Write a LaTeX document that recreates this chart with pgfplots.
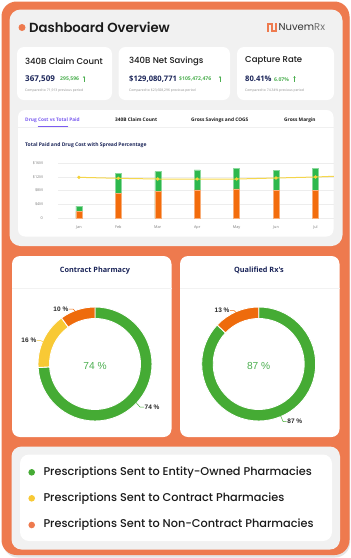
\documentclass[border=0pt]{standalone}
\usepackage{pgfplots}
\pgfplotsset{compat=1.18}
\usetikzlibrary{arrows.meta}
\usepackage{fontspec}
\setmainfont{Open Sans}
\newfontfamily\pop{Poppins}
\newfontfamily\popm{Poppins Medium}
\newfontfamily\pops{Poppins SemiBold}
\newfontfamily\osans{Open Sans}
\newfontfamily\lib{Liberation Sans}
\definecolor{frame}{HTML}{EE7A4E}
\definecolor{panel}{HTML}{F1F1F1}
\definecolor{navy}{HTML}{1B2559}
\definecolor{kgreen}{HTML}{4CAF50}
\definecolor{barorange}{HTML}{F36C0C}
\definecolor{bargreen}{HTML}{2DB84D}
\definecolor{lineyellow}{HTML}{F5D33A}
\definecolor{markyellow}{HTML}{F2C318}
\definecolor{dgreen}{HTML}{45AB34}
\definecolor{dyellow}{HTML}{F8C935}
\definecolor{dorange}{HTML}{EE6B0C}
\definecolor{tabpurple}{HTML}{7B5CF0}
\definecolor{ticgray}{HTML}{7A7A7A}
\definecolor{txt}{HTML}{1A1A1A}
\newcommand\fs[1]{\fontsize{#1}{#1}\selectfont}
% donut segment: start angle, end angle, colour
\newcommand\seg[3]{\fill[#3, draw=white, line width=0.9pt] (axis cs:0,0) ++(#1:57pt) arc[start angle=#1, end angle=#2, radius=57pt] -- ++(#2+180:11.5pt) arc[start angle=#2, end angle=#1, radius=45.5pt] -- cycle;}

\begin{document}
\begin{tikzpicture}
% donut data (percent)
\def\cpGreen{74}\def\cpYellow{16}\def\cpOrange{10}
\def\qrGreen{87}\def\qrOrange{13}
\pgfmathsetmacro\aA{90-3.6*\cpGreen}
\pgfmathsetmacro\aB{\aA-3.6*\cpYellow}
\pgfmathsetmacro\aC{\aB-3.6*\cpOrange}
\pgfmathsetmacro\bA{90-3.6*\qrGreen}
\pgfmathsetmacro\bB{\bA-3.6*\qrOrange}
\begin{scope}[x=1pt,y=-1pt]
\path[use as bounding box] (0,0) rectangle (351,558);
\fill[white] (0,0) rectangle (351,558);
\fill[black!10, rounded corners=15pt] (3,5) rectangle (350,557.5);
\fill[frame, rounded corners=15pt] (1.5,1.5) rectangle (349.5,555);
\fill[panel, rounded corners=11pt] (9.5,9.5) rectangle (342.5,246);
% title
\fill[frame] (22,27.5) circle (3.5);
\node[anchor=west, inner sep=0pt, text=txt] at (29,27.5) {\pops\fs{13.2}Dashboard Overview};
% logo
\draw[frame, line width=2pt] (267.5,31.5)--(267.5,23.5)--(271.5,23.5)--(271.5,30.5)--(275.5,30.5)--(275.5,22.5);
\node[anchor=west, inner sep=0pt] at (278.5,27) {\pop\fs{10}\color{black!80}Nuvem\color{black!55}Rx};
% KPI cards
\fill[white, rounded corners=7pt] (17,47) rectangle (112,100);
\fill[white, rounded corners=7pt] (118.5,47) rectangle (230,100);
\fill[white, rounded corners=7pt] (237,47) rectangle (334,100);
\node[anchor=west, inner sep=0pt, text=txt] at (25,61) {\popm\fs{8.5}340B Claim Count};
\node[anchor=west, inner sep=0pt, text=txt] at (129,61) {\popm\fs{8.5}340B Net Savings};
\node[anchor=west, inner sep=0pt, text=txt] at (245,61) {\popm\fs{8.5}Capture Rate};
\node[anchor=west, inner sep=0pt, text=navy] at (25,79) {\osans\bfseries\fs{8}367,509};
\node[anchor=west, inner sep=0pt, text=navy] at (129,79) {\osans\bfseries\fs{7.6}\$129,080,771};
\node[anchor=west, inner sep=0pt, text=navy] at (245,79) {\osans\bfseries\fs{7.6}80.41\%};
\node[anchor=west, inner sep=0pt, text=kgreen] at (60,79.3) {\osans\bfseries\fs{5.1}295,596};
\node[anchor=west, inner sep=0pt, text=kgreen] at (179,79.3) {\osans\bfseries\fs{5.1}\$105,472,476};
\node[anchor=west, inner sep=0pt, text=kgreen] at (274,79.3) {\osans\bfseries\fs{5.1}6.07\%};
\foreach \ax in {84,220,294.5}{\draw[kgreen, line width=0.6pt, -{Stealth[length=1.8pt,width=2.2pt]}] (\ax,81.5)--(\ax,76);}
\node[anchor=west, inner sep=0pt, text=black!45] at (25,91) {\osans\fs{3.4}Compared to 71,913 previous period};
\node[anchor=west, inner sep=0pt, text=black!45] at (129,91) {\osans\fs{3.4}Compared to \$23,608,296 previous period};
\node[anchor=west, inner sep=0pt, text=black!45] at (245,91) {\osans\fs{3.4}Compared to 74.34\% previous period};
% chart card
\fill[white, rounded corners=7pt] (18,110) rectangle (333.5,236.5);
\node[anchor=west, inner sep=0pt, text=tabpurple] at (25,120) {\osans\bfseries\fs{4.8}Drug Cost vs Total Paid};
\node[anchor=west, inner sep=0pt, text=txt] at (115,120) {\osans\bfseries\fs{4.8}340B Claim Count};
\node[anchor=west, inner sep=0pt, text=txt] at (191,120) {\osans\bfseries\fs{4.8}Gross Savings and COGS};
\node[anchor=west, inner sep=0pt, text=txt] at (284,120) {\osans\bfseries\fs{4.8}Gross Margin};
\draw[black!6, line width=0.5pt] (18,127.5)--(333.5,127.5);
\draw[tabpurple, line width=1.2pt, line cap=round] (38.5,126.8)--(67.5,126.8);
\node[anchor=west, inner sep=0pt, text=navy] at (25,144.7) {\osans\bfseries\fs{5}Total Paid and Drug Cost with Spread Percentage};
% donut cards
\fill[white, rounded corners=8pt] (12,256) rectangle (171.5,437);
\fill[white, rounded corners=8pt] (180,256) rectangle (339.5,437);
\draw[black!5, line width=0.5pt] (12,288)--(171.5,288);
\draw[black!5, line width=0.5pt] (180,288)--(339.5,288);
\node[inner sep=0pt, text=navy] at (95,270.7) {\osans\bfseries\fs{7.3}Contract Pharmacy};
\node[inner sep=0pt, text=navy] at (259,270.7) {\osans\bfseries\fs{7.3}Qualified Rx's};
% legend panel
\fill[panel, rounded corners=10pt] (11.5,446.5) rectangle (340,549.5);
\fill[white, rounded corners=9pt] (20,454.5) rectangle (332,541);
\fill[dgreen] (31.7,472.3) circle (3.3);
\fill[dyellow] (31.7,498.3) circle (3.3);
\fill[frame] (31.7,525) circle (3.3);
\node[anchor=west, inner sep=0pt, text=txt] at (43.3,472.3) {\popm\fs{11.3}Prescriptions Sent to Entity-Owned Pharmacies};
\node[anchor=west, inner sep=0pt, text=txt] at (43.3,498.3) {\popm\fs{11.3}Prescriptions Sent to Contract Pharmacies};
\node[anchor=west, inner sep=0pt, text=txt] at (43.3,525) {\popm\fs{11.3}Prescriptions Sent to Non-Contract Pharmacies};
\end{scope}

% ---- bar + line chart ----
\begin{axis}[at={(58pt,-218.3pt)}, anchor=south west, scale only axis,
  width=276pt, height=55.3pt, xmin=-0.53, xmax=6.47, ymin=0, ymax=16,
  axis line style={draw=none}, tick style={draw=none},
  ymajorgrids, grid style={black!7, line width=0.4pt},
  ytick={0,4,8,12,16}, yticklabels={0,\$4M,\$8M,\$12M,\$16M},
  xtick={0,1,2,3,4,5,6}, xticklabels={Jan,Feb,Mar,Apr,May,Jun,Jul},
  yticklabel style={anchor=east, inner sep=0pt, xshift=-15pt, font=\osans\fs{3.8}, text=ticgray},
  xticklabel style={anchor=north, inner sep=0pt, yshift=-7pt, font=\osans\fs{3.8}, text=ticgray},
  clip=true]
% total paid (top of green)
\addplot[ybar, bar width=6pt, bar shift=0pt, fill=bargreen, draw=bargreen!55, line width=0.5pt]
  coordinates {(0,3.56)(1,13.0)(2,13.5)(3,14.0)(4,14.5)(5,13.9)(6,14.5)};
% drug cost (orange)
\addplot[ybar, bar width=6pt, bar shift=0pt, fill=barorange, draw=barorange!55, line width=0.5pt]
  coordinates {(0,1.9)(1,7.2)(2,7.9)(3,8.2)(4,8.5)(5,8.0)(6,8.0)};
% spread line
\addplot[lineyellow, line width=1pt, opacity=0.9, mark=*, mark size=1.1pt,
  mark options={fill=markyellow, draw=none, opacity=1}]
  coordinates {(0,11.86)(1,11.57)(2,11.37)(3,11.37)(4,11.37)(5,11.66)(6,11.95)(7,12.4)};
\end{axis}

% ---- Contract Pharmacy donut ----
\begin{axis}[at={(95pt,-364pt)}, anchor=center, scale only axis,
  width=114pt, height=114pt, xmin=-57, xmax=57, ymin=-57, ymax=57,
  hide axis, clip=false]
\seg{90}{\aA}{dgreen}
\seg{\aA}{\aB}{dyellow}
\seg{\aB}{\aC}{dorange}
\draw[dorange, line width=0.5pt] (axis cs:-26,55)--(axis cs:-22,55)--(axis cs:-19,52);
\draw[dyellow, line width=0.5pt] (axis cs:-58,23.3)--(axis cs:-54,23.3)--(axis cs:-51,21.5);
\draw[dgreen, line width=0.5pt] (axis cs:41,-38.5)--(axis cs:45,-43)--(axis cs:49,-43);
\node[anchor=east, inner sep=0pt, text=black!85] at (axis cs:-26.5,55) {\lib\bfseries\fs{6.5}10 \%};
\node[anchor=east, inner sep=0pt, text=black!85] at (axis cs:-58.5,23.3) {\lib\bfseries\fs{6.5}16 \%};
\node[anchor=west, inner sep=0pt, text=black!85] at (axis cs:49.5,-43) {\lib\bfseries\fs{6.5}74 \%};
\node[inner sep=0pt, text=kgreen] at (axis cs:0,-1.5) {\lib\fs{10.2}74 \%};
\end{axis}

% ---- Qualified Rx's donut ----
\begin{axis}[at={(258.7pt,-364pt)}, anchor=center, scale only axis,
  width=114pt, height=114pt, xmin=-57, xmax=57, ymin=-57, ymax=57,
  hide axis, clip=false]
\seg{90}{\bA}{dgreen}
\seg{\bA}{\bB}{dorange}
\draw[dorange, line width=0.5pt] (axis cs:-28.5,53.3)--(axis cs:-24.5,53.3)--(axis cs:-21.5,50.5);
\draw[dgreen, line width=0.5pt] (axis cs:21.5,-51)--(axis cs:24.5,-57.7)--(axis cs:28,-57.7);
\node[anchor=east, inner sep=0pt, text=black!85] at (axis cs:-29,53.3) {\lib\bfseries\fs{6.5}13 \%};
\node[anchor=west, inner sep=0pt, text=black!85] at (axis cs:28.5,-57.7) {\lib\bfseries\fs{6.5}87 \%};
\node[inner sep=0pt, text=kgreen] at (axis cs:0,-1.5) {\lib\fs{10.2}87 \%};
\end{axis}
\end{tikzpicture}
\end{document}
